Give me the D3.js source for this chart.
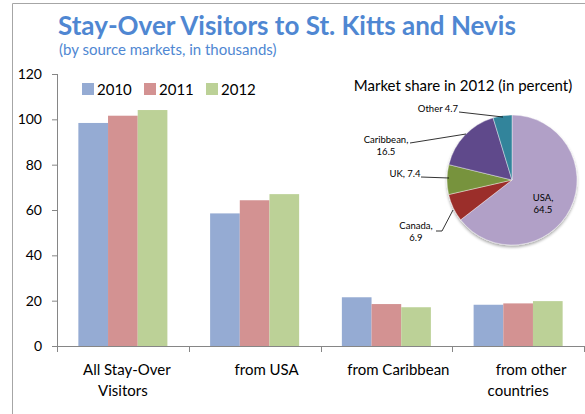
<!DOCTYPE html>
<html>
<head>
<meta charset="utf-8">
<script src="https://cdn.jsdelivr.net/npm/d3@7"></script>
<style>
  html, body { margin: 0; padding: 0; background: #fff; }
  svg { display: block; font-family: Lato, "Open Sans", sans-serif; }
</style>
</head>
<body>
<svg id="chart" width="585" height="414"></svg>
<script>
// Stay-over arrivals by source market, thousands
const categories = [["All Stay-Over", "Visitors"], ["from USA"], ["from Caribbean"], ["from other", "countries"]];
const years = ["2010", "2011", "2012"];
const visitors2010 = [98.4, 58.5, 21.5, 18.2];
const visitors2011 = [101.6, 64.3, 18.5, 18.8];
const visitors2012 = [104.1, 67.0, 17.1, 19.8];
const yTicks = [0, 20, 40, 60, 80, 100, 120];

// 2012 market share, percent
const shareMarkets = ["USA", "Canada", "UK", "Caribbean", "Other"];
const shareValues = [64.5, 6.9, 7.4, 16.5, 4.7];

const seriesValues = [visitors2010, visitors2011, visitors2012];
const barColors = ["#95abd3", "#d39292", "#bcd197"];
const sliceColors = ["#b1a0c7", "#9b2d2a", "#77933c", "#5f4a8b", "#31849b"];

const svg = d3.select("#chart");

// outer frame (left and top edges)
svg.append("path")
  .attr("d", "M12.5,414 V3.5 H585")
  .attr("fill", "none").attr("stroke", "#a6a6a6").attr("stroke-width", 1);

// titles
svg.append("text").attr("x", 58).attr("y", 35)
  .attr("fill", "#4f87d2").attr("font-size", 26).attr("font-weight", 700)
  .text("Stay-Over Visitors to St. Kitts and Nevis");
svg.append("text").attr("x", 59).attr("y", 55)
  .attr("fill", "#4f87d2").attr("font-size", 15)
  .text("(by source markets, in thousands)");

// scales
const x0 = d3.scaleBand().domain(d3.range(categories.length)).range([57, 584]).paddingInner(0).paddingOuter(0);
const x1 = d3.scaleBand().domain(d3.range(years.length)).range([0, x0.bandwidth()]).paddingOuter(0.72);
const y = d3.scaleLinear().domain([0, 120]).range([346, 74]);

// bars
const groups = svg.append("g").selectAll("g").data(categories).join("g")
  .attr("transform", (d, i) => `translate(${x0(i)},0)`);
groups.selectAll("rect")
  .data((d, i) => seriesValues.map((s, k) => ({ k, v: s[i] })))
  .join("rect")
  .attr("x", d => x1(d.k))
  .attr("width", x1.bandwidth())
  .attr("y", d => y(d.v))
  .attr("height", d => y(0) - y(d.v))
  .attr("fill", d => barColors[d.k]);

// y axis
const yAxis = svg.append("g").attr("transform", "translate(57,0)")
  .call(d3.axisLeft(y).tickValues(yTicks).tickSize(5).tickPadding(10));
yAxis.select(".domain").attr("stroke", "#868686").attr("d", `M0.5,${y(120)}V${y(0)}`);
yAxis.selectAll(".tick line").attr("stroke", "#868686");
yAxis.selectAll(".tick text").attr("font-size", 14).attr("fill", "#000")
  .attr("font-family", "Lato, 'Open Sans', sans-serif");

// x axis
const xAxis = svg.append("g").attr("transform", `translate(0,${y(0)})`);
xAxis.append("line").attr("x1", 57).attr("x2", 585).attr("y1", 0.5).attr("y2", 0.5).attr("stroke", "#868686");
xAxis.selectAll("line.tk").data(d3.range(categories.length + 1)).join("line")
  .attr("class", "tk")
  .attr("x1", i => Math.round(i < categories.length ? x0(i) : x0.range()[1]) + 0.5)
  .attr("x2", i => Math.round(i < categories.length ? x0(i) : x0.range()[1]) + 0.5)
  .attr("y1", 0).attr("y2", 6).attr("stroke", "#868686");
const firstLineShift = [4, 12, 12, 13];
xAxis.selectAll("text.cat").data(categories).join("text")
  .attr("class", "cat")
  .attr("text-anchor", "middle").attr("font-size", 15).attr("fill", "#000")
  .each(function (lines, i) {
    const t = d3.select(this);
    lines.forEach((ln, j) => {
      t.append("tspan")
        .attr("x", x0(i) + x0.bandwidth() / 2 + (j === 0 ? firstLineShift[i] : 0))
        .attr("y", 29 + j * 21)
        .text(ln);
    });
  });

// legend
const legend = svg.append("g").selectAll("g").data(years).join("g")
  .attr("transform", (d, i) => `translate(${82 + i * 62},83)`);
legend.append("rect").attr("width", 12).attr("height", 12).attr("fill", (d, i) => barColors[i]);
legend.append("text").attr("x", 15).attr("y", 12).attr("font-size", 15).attr("fill", "#000").text(d => d);

// pie inset
const cx = 512, cy = 180, r = 65;
svg.append("text").attr("x", 463).attr("y", 91).attr("text-anchor", "middle")
  .attr("font-size", 15).attr("fill", "#000").text("Market share in 2012 (in percent)");

const defs = svg.append("defs");
const shadow = defs.append("filter").attr("id", "pieShadow").attr("x", "-20%").attr("y", "-20%").attr("width", "140%").attr("height", "140%");
shadow.append("feGaussianBlur").attr("in", "SourceAlpha").attr("stdDeviation", 1.5);
shadow.append("feOffset").attr("dx", 0).attr("dy", 1.5).attr("result", "off");
shadow.append("feComponentTransfer").append("feFuncA").attr("type", "linear").attr("slope", 0.35);
const mrg = shadow.append("feMerge");
mrg.append("feMergeNode");
mrg.append("feMergeNode").attr("in", "SourceGraphic");

const pie = d3.pie().sort(null).value(d => d)(shareValues);
const arc = d3.arc().innerRadius(0).outerRadius(r);
const pieG = svg.append("g").attr("transform", `translate(${cx},${cy})`);
pieG.append("g").attr("filter", "url(#pieShadow)")
  .selectAll("path").data(pie).join("path")
  .attr("d", arc)
  .attr("fill", (d, i) => sliceColors[i])
  .attr("stroke", "#fff").attr("stroke-width", 0.4);

// slice labels: [lines], anchor position, leader line end points
const labelSpec = [
  { lines: [shareMarkets[0] + ",", String(shareValues[0])], x: 543, y: 201, anchor: "middle", leader: null },
  { lines: [shareMarkets[1] + ",", String(shareValues[1])], x: 416, y: 229, anchor: "middle", leader: [[436, 231], [442, 231], [453, 210]] },
  { lines: [shareMarkets[2] + ", " + shareValues[2]], x: 405, y: 177, anchor: "middle", leader: [[421, 177], [449, 178]] },
  { lines: [shareMarkets[3] + ",", String(shareValues[3])], x: 386, y: 143, anchor: "middle", leader: [[410, 143], [466, 134]] },
  { lines: [shareMarkets[4] + " " + shareValues[4]], x: 438, y: 112, anchor: "middle", leader: [[459, 112], [503, 117]] }
];
const lbl = svg.append("g").attr("font-size", 9.5).attr("fill", "#000");
labelSpec.forEach(s => {
  const t = lbl.append("text").attr("text-anchor", s.anchor);
  s.lines.forEach((ln, j) => t.append("tspan").attr("x", s.x).attr("y", s.y + j * 12).text(ln));
  if (s.leader) {
    lbl.append("path").attr("d", d3.line()(s.leader)).attr("fill", "none").attr("stroke", "#000").attr("stroke-width", 0.8);
  }
});
</script>
</body>
</html>
